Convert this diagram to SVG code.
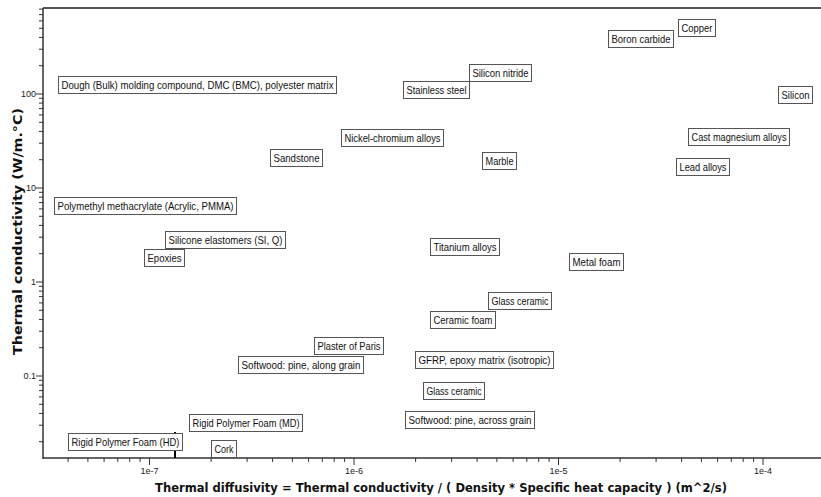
<svg xmlns="http://www.w3.org/2000/svg" width="821" height="497" viewBox="0 0 821 497">
<style>
.lbl rect{fill:#fff;stroke:#555;stroke-width:1}
.lbl text{font-family:"Liberation Sans",Arial,sans-serif;font-size:10.5px;fill:#111}
.tk{stroke:#333;stroke-width:1}
.tl{font-family:"Liberation Sans",Arial,sans-serif;font-size:9px;fill:#222}
.title{font-family:"DejaVu Sans",Verdana,sans-serif;font-weight:bold;font-size:12.5px;fill:#111}
</style>
<rect width="821" height="497" fill="#fff"/>
<g id="axes">
<line x1="43" y1="8" x2="821" y2="8" stroke="#555" stroke-width="2"/>
<line x1="43" y1="458" x2="821" y2="458" stroke="#666" stroke-width="2"/>
<line x1="43" y1="8" x2="43" y2="459" stroke="#333" stroke-width="1.5"/>
<path class="tk" d="M68.1 458v4M87.9 458v4M104.1 458v4M117.8 458v4M129.7 458v4M140.1 458v4M149.5 458v7M211.1 458v4M247.1 458v4M272.6 458v4M292.4 458v4M308.6 458v4M322.3 458v4M334.2 458v4M344.6 458v4M354 458v7M415.6 458v4M451.6 458v4M477.1 458v4M496.9 458v4M513.1 458v4M526.8 458v4M538.7 458v4M549.1 458v4M558.5 458v7M620.1 458v4M656.1 458v4M681.6 458v4M701.4 458v4M717.6 458v4M731.3 458v4M743.2 458v4M753.6 458v4M763 458v7"/>
<path class="tk" d="M39 9.1h4M39 14.6h4M39 20.9h4M39 28.3h4M39 37.4h4M39 49.2h4M39 65.7h4M36 94h7M39 98.3h4M39 103.1h4M39 108.6h4M39 114.9h4M39 122.3h4M39 131.4h4M39 143.2h4M39 159.7h4M36 188h7M39 192.3h4M39 197.1h4M39 202.6h4M39 208.9h4M39 216.3h4M39 225.4h4M39 237.2h4M39 253.7h4M36 282h7M39 286.3h4M39 291.1h4M39 296.6h4M39 302.9h4M39 310.3h4M39 319.4h4M39 331.2h4M39 347.7h4M36 376h7M39 380.3h4M39 385.1h4M39 390.6h4M39 396.9h4M39 404.3h4M39 413.4h4M39 425.2h4M39 441.7h4"/>
<text class="tl" x="36" y="97" text-anchor="end">100</text>
<text class="tl" x="36" y="191" text-anchor="end">10</text>
<text class="tl" x="36" y="285" text-anchor="end">1</text>
<text class="tl" x="36" y="379" text-anchor="end">0.1</text>
<text class="tl" x="149.5" y="474" text-anchor="middle">1e-7</text>
<text class="tl" x="354" y="474" text-anchor="middle">1e-6</text>
<text class="tl" x="558.5" y="474" text-anchor="middle">1e-5</text>
<text class="tl" x="763" y="474" text-anchor="middle">1e-4</text>
<text class="title" x="155" y="492" textLength="572" lengthAdjust="spacingAndGlyphs">Thermal diffusivity = Thermal conductivity /  ( Density * Specific heat capacity ) (m^2/s)</text>
<text class="title" transform="translate(22 355) rotate(-90)" x="0" y="0" textLength="247" lengthAdjust="spacingAndGlyphs">Thermal conductivity (W/m.°C)</text>
</g>
<g id="connectors">
<line x1="175" y1="432" x2="175" y2="458" stroke="#000" stroke-width="2"/>
</g>
<g id="n1" class="lbl"><rect x="58.5" y="76.5" width="278" height="17"/><text x="61.5" y="88.8" textLength="272" lengthAdjust="spacingAndGlyphs">Dough (Bulk) molding compound, DMC (BMC), polyester matrix</text></g>
<g id="n2" class="lbl"><rect x="403.5" y="81.5" width="66" height="17"/><text x="406.5" y="93.8" textLength="60" lengthAdjust="spacingAndGlyphs">Stainless steel</text></g>
<g id="n3" class="lbl"><rect x="469.5" y="64.5" width="62" height="17"/><text x="472.5" y="76.8" textLength="56" lengthAdjust="spacingAndGlyphs">Silicon nitride</text></g>
<g id="n4" class="lbl"><rect x="341.5" y="129.5" width="102" height="17"/><text x="344.5" y="141.8" textLength="96" lengthAdjust="spacingAndGlyphs">Nickel-chromium alloys</text></g>
<g id="n5" class="lbl"><rect x="270.5" y="149.5" width="52" height="17"/><text x="273.5" y="161.8" textLength="46" lengthAdjust="spacingAndGlyphs">Sandstone</text></g>
<g id="n6" class="lbl"><rect x="482.5" y="152.5" width="34" height="17"/><text x="485.5" y="164.8" textLength="28" lengthAdjust="spacingAndGlyphs">Marble</text></g>
<g id="n7" class="lbl"><rect x="608.5" y="30.5" width="65" height="17"/><text x="611.5" y="42.8" textLength="59" lengthAdjust="spacingAndGlyphs">Boron carbide</text></g>
<g id="n8" class="lbl"><rect x="678.5" y="19.5" width="37" height="17"/><text x="681.5" y="31.8" textLength="31" lengthAdjust="spacingAndGlyphs">Copper</text></g>
<g id="n9" class="lbl"><rect x="778.5" y="86.5" width="34" height="17"/><text x="781.5" y="98.8" textLength="28" lengthAdjust="spacingAndGlyphs">Silicon</text></g>
<g id="n10" class="lbl"><rect x="688.5" y="128.5" width="101" height="17"/><text x="691.5" y="140.8" textLength="95" lengthAdjust="spacingAndGlyphs">Cast magnesium alloys</text></g>
<g id="n11" class="lbl"><rect x="676.5" y="158.5" width="53" height="17"/><text x="679.5" y="170.8" textLength="47" lengthAdjust="spacingAndGlyphs">Lead alloys</text></g>
<g id="n12" class="lbl"><rect x="54.5" y="197.5" width="182" height="17"/><text x="57.5" y="209.8" textLength="176" lengthAdjust="spacingAndGlyphs">Polymethyl methacrylate (Acrylic, PMMA)</text></g>
<g id="n13" class="lbl"><rect x="165.5" y="231.5" width="120" height="17"/><text x="168.5" y="243.8" textLength="114" lengthAdjust="spacingAndGlyphs">Silicone elastomers (SI, Q)</text></g>
<g id="n14" class="lbl"><rect x="144.5" y="249.5" width="40" height="17"/><text x="147.5" y="261.8" textLength="34" lengthAdjust="spacingAndGlyphs">Epoxies</text></g>
<g id="n15" class="lbl"><rect x="430.5" y="238.5" width="69" height="17"/><text x="433.5" y="250.8" textLength="63" lengthAdjust="spacingAndGlyphs">Titanium alloys</text></g>
<g id="n16" class="lbl"><rect x="488.5" y="292.5" width="63" height="17"/><text x="491.5" y="304.8" textLength="57" lengthAdjust="spacingAndGlyphs">Glass ceramic</text></g>
<g id="n17" class="lbl"><rect x="430.5" y="311.5" width="65" height="17"/><text x="433.5" y="323.8" textLength="59" lengthAdjust="spacingAndGlyphs">Ceramic foam</text></g>
<g id="n18" class="lbl"><rect x="569.5" y="253.5" width="54" height="17"/><text x="572.5" y="265.8" textLength="48" lengthAdjust="spacingAndGlyphs">Metal foam</text></g>
<g id="n19" class="lbl"><rect x="314.5" y="337.5" width="69" height="17"/><text x="317.5" y="349.8" textLength="63" lengthAdjust="spacingAndGlyphs">Plaster of Paris</text></g>
<g id="n20" class="lbl"><rect x="238.5" y="356.5" width="125" height="17"/><text x="241.5" y="368.8" textLength="119" lengthAdjust="spacingAndGlyphs">Softwood: pine, along grain</text></g>
<g id="n21" class="lbl"><rect x="415.5" y="351.5" width="138" height="17"/><text x="418.5" y="363.8" textLength="132" lengthAdjust="spacingAndGlyphs">GFRP, epoxy matrix (isotropic)</text></g>
<g id="n22" class="lbl"><rect x="423.5" y="382.5" width="61" height="17"/><text x="426.5" y="394.8" textLength="55" lengthAdjust="spacingAndGlyphs">Glass ceramic</text></g>
<g id="n23" class="lbl"><rect x="405.5" y="411.5" width="129" height="17"/><text x="408.5" y="423.8" textLength="123" lengthAdjust="spacingAndGlyphs">Softwood: pine, across grain</text></g>
<g id="n24" class="lbl"><rect x="189.5" y="414.5" width="113" height="17"/><text x="192.5" y="426.8" textLength="107" lengthAdjust="spacingAndGlyphs">Rigid Polymer Foam (MD)</text></g>
<g id="n25" class="lbl"><rect x="68.5" y="433.5" width="114" height="17"/><text x="71.5" y="445.8" textLength="108" lengthAdjust="spacingAndGlyphs">Rigid Polymer Foam (HD)</text></g>
<g id="n26" class="lbl"><rect x="211.5" y="440.5" width="25" height="17"/><text x="214.5" y="452.8" textLength="19" lengthAdjust="spacingAndGlyphs">Cork</text></g>
</svg>
